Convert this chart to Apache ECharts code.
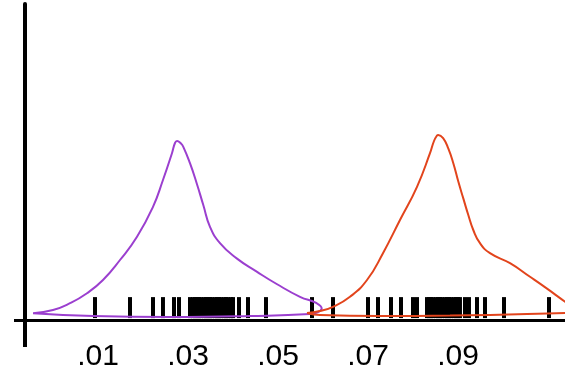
<!DOCTYPE html>
<html>
<head>
<meta charset="utf-8">
<script src="https://cdn.jsdelivr.net/npm/echarts@6/dist/echarts.min.js"></script>
<style>
html,body{margin:0;padding:0;background:#fff;}
#c{width:565px;height:373px;}
</style>
</head>
<body>
<div id="c"></div>
<script>
// x-axis tick values and labels
var tickValues = [0.01, 0.03, 0.05, 0.07, 0.09];
var tickLabels = ['.01', '.03', '.05', '.07', '.09'];

// density outline (closed loop: curve, then back along base) - purple group
var purpleCurve = [
  [-0.00444, 1.7], [0.00000, 2.5], [0.00378, 4.2], [0.00756, 6.7],
  [0.01111, 10], [0.01489, 15], [0.01867, 20.8], [0.02222, 28.3],
  [0.02444, 35], [0.02644, 41.7], [0.02711, 44.25], [0.02756, 44.75],
  [0.02844, 44.1], [0.02896, 43.3], [0.03044, 39.2], [0.03193, 34.2],
  [0.03340, 28.75], [0.03489, 23.3], [0.03711, 19.2], [0.04082, 15.4],
  [0.04527, 12.1], [0.04971, 9], [0.05489, 5.8], [0.05860, 4.2],
  [0.05971, 2.9], [0.05889, 2], [0.05711, 1.5], [0.04378, 1],
  [0.02600, 0.75], [0.00889, 1], [-0.00444, 1.7]
];

// density outline - orange group
var orangeCurve = [
  [0.05644, 1.75], [0.05933, 2.25], [0.06222, 3.3], [0.06600, 5.8],
  [0.06978, 10], [0.07333, 16.7], [0.07711, 25], [0.08089, 33.3],
  [0.08378, 41.7], [0.08467, 44.75], [0.08533, 46.1], [0.08562, 46.25],
  [0.08673, 45.4], [0.08784, 42.9], [0.08896, 39.2], [0.09007, 34.6],
  [0.09118, 30.4], [0.09229, 26.25], [0.09340, 22.5], [0.09489, 19.2],
  [0.09711, 16.7], [0.10156, 14.2], [0.10600, 10.8], [0.10971, 7.9],
  [0.11378, 4.6], [0.11533, 3.5], [0.11600, 2.5], [0.11500, 1.9],
  [0.11378, 1.75], [0.08822, 1.1], [0.07267, 1], [0.05933, 1.25], [0.05644, 1.75]
];

// rug observations
var purpleRug = [0.00933, 0.01711, 0.02222, 0.02444, 0.02689, 0.02800, 0.03044, 0.03111,
  0.03156, 0.03200, 0.03244, 0.03289, 0.03356, 0.03400, 0.03444, 0.03489, 0.03533,
  0.03600, 0.03644, 0.03689, 0.03733, 0.03800, 0.03844, 0.03889, 0.03956, 0.04000,
  0.04133, 0.04333, 0.04733, 0.05756];
var orangeRug = [0.06222, 0.07000, 0.07222, 0.07511, 0.07733, 0.08000, 0.08089, 0.08311,
  0.08356, 0.08400, 0.08444, 0.08511, 0.08556, 0.08600, 0.08644, 0.08711, 0.08756,
  0.08800, 0.08844, 0.08911, 0.08956, 0.09000, 0.09044, 0.09156, 0.09244, 0.09422,
  0.09600, 0.10022, 0.11022];

var X_MIN = -0.00622, X_MAX = 0.11378;
var RUG_Y = 3.1;

var chart = echarts.init(document.getElementById('c'), null, {renderer: 'canvas'});
var rugData = purpleRug.concat(orangeRug).map(function (v) { return [v, RUG_Y]; });

chart.setOption({
  animation: false,
  backgroundColor: '#ffffff',
  grid: {left: 25, right: 0, top: 4, bottom: 53, containLabel: false},
  xAxis: {
    type: 'value', min: X_MIN, max: X_MAX,
    splitLine: {show: false},
    axisLine: {show: true, onZero: false, lineStyle: {color: '#000', width: 3}},
    axisTick: {show: true, inside: false, length: 27, customValues: [X_MIN], lineStyle: {color: '#000', width: 4}},
    axisLabel: {
      show: true, customValues: tickValues, margin: 22,
      color: '#000', fontSize: 30, fontFamily: 'Liberation Sans, Arial, sans-serif',
      formatter: function (v) {
        for (var i = 0; i < tickValues.length; i++) {
          if (Math.abs(tickValues[i] - v) < 1e-9) return tickLabels[i];
        }
        return '';
      }
    }
  },
  yAxis: {
    type: 'value', min: 0, max: 79,
    splitLine: {show: false},
    axisLine: {show: true, onZero: false, lineStyle: {color: '#000', width: 4}},
    axisTick: {show: true, length: 11, customValues: [0], lineStyle: {color: '#000', width: 3}},
    axisLabel: {show: false}
  },
  series: [
    {
      type: 'scatter', data: rugData, symbol: 'rect', symbolSize: [4, 21],
      itemStyle: {color: '#000', opacity: 1}, z: 2, silent: true
    },
    {
      type: 'line', data: purpleCurve, smooth: 0.5, showSymbol: false, symbol: 'none',
      lineStyle: {color: '#9b3fcf', width: 2}, z: 3
    },
    {
      type: 'line', data: orangeCurve, smooth: 0.5, showSymbol: false, symbol: 'none',
      lineStyle: {color: '#e2441c', width: 2}, z: 3
    }
  ]
});
</script>
</body>
</html>
